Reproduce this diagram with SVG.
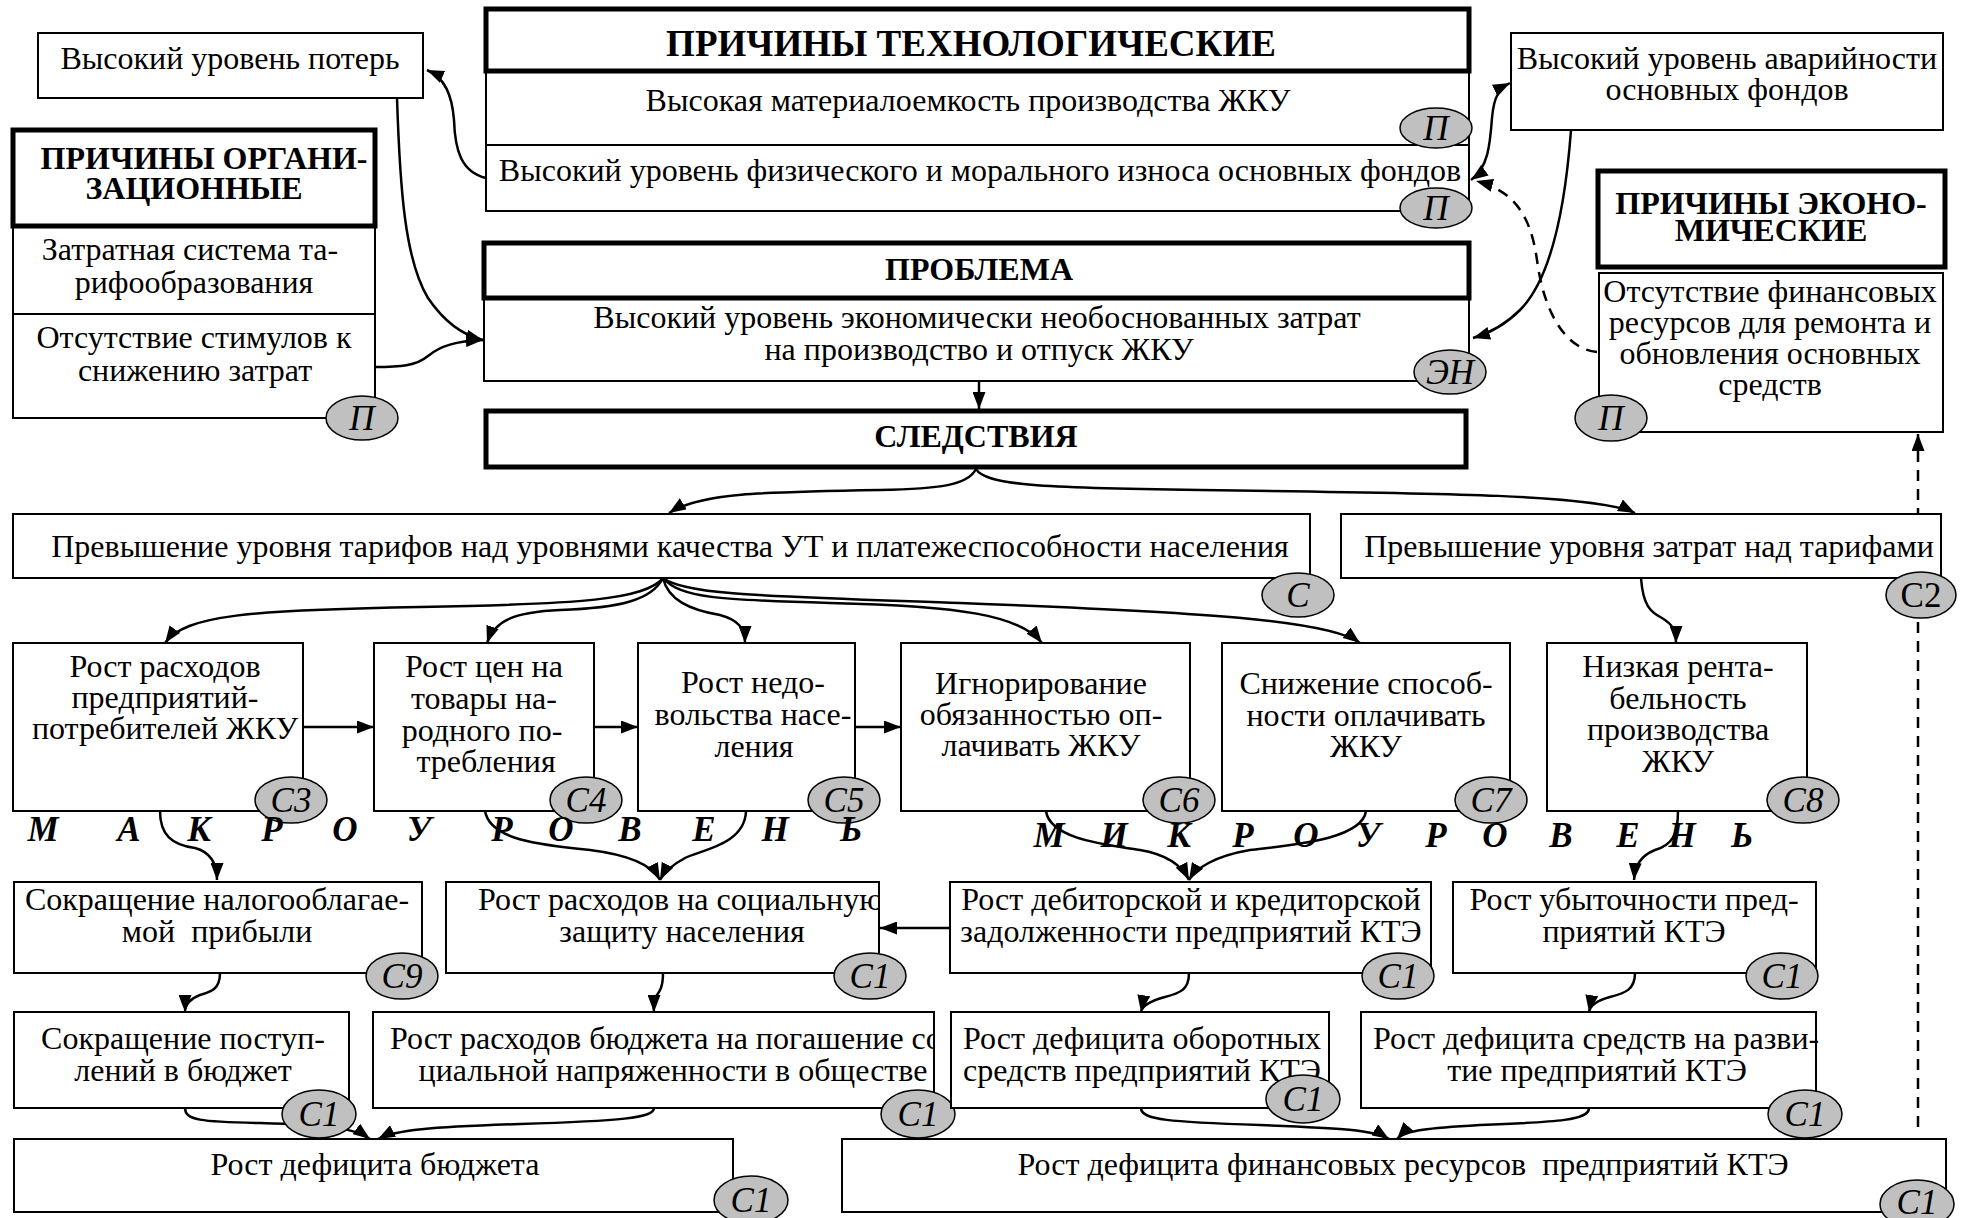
<svg xmlns="http://www.w3.org/2000/svg" width="1971" height="1218" viewBox="0 0 1971 1218">
  <style>
    text { font-family: "Liberation Serif", "Times New Roman", serif; font-size: 32px; fill: #000; }
    .c { text-anchor: middle; }
    .h { font-weight: bold; }
    .ht { font-weight: bold; font-size: 37px; }
    .it { font-style: italic; font-size: 35px; text-anchor: middle; }
    .up { font-size: 35px; text-anchor: middle; }
    .lv { font-weight: bold; font-style: italic; font-size: 35px; text-anchor: middle; }
    .bx { fill: #fff; stroke: #000; stroke-width: 2; }
    .hd { fill: #fff; stroke: #000; stroke-width: 5; }
    .el { fill: #c0c0c0; stroke: #000; stroke-width: 1.5; }
    .dv { stroke: #000; stroke-width: 2; }
    .cn { fill: none; stroke: #000; stroke-width: 2.5; marker-end: url(#ah); }
    .ds { stroke-dasharray: 11 8; }
  </style>
  <defs>
    <marker id="ah" viewBox="0 0 17 13" refX="17" refY="6.5" markerWidth="17" markerHeight="13" markerUnits="userSpaceOnUse" orient="auto-start-reverse">
      <path d="M0,0 L17,6.5 L0,13 z" fill="#000"/>
    </marker>
    <clipPath id="clipSocial"><rect x="446" y="882" width="433" height="91"/></clipPath>
    <clipPath id="clipBudgetExp"><rect x="373" y="1012" width="561" height="96"/></clipPath>
  </defs>
  <rect width="1971" height="1218" fill="#fff"/>

  <!-- connectors -->
  <g id="connectors">
    <path class="cn" d="M397,98 C400,190 405,260 428,298 C447,326 466,336 483,340"/>
    <path class="cn" d="M375,367 C400,367 416,366 428,356 C440,346 456,341 483,340"/>
    <path class="cn" d="M486,178 C461,172 455,150 454,120 C452,95 445,78 427,70"/>
    <path class="cn" style="marker-start:url(#ah)" d="M1471,180 C1488,168 1490,145 1492,118 C1494,95 1500,88 1510,83"/>
    <path class="cn ds" d="M1597,352 C1570,350 1545,320 1537,260 C1530,210 1510,190 1476,181"/>
    <path class="cn" d="M1571,130 C1565,210 1550,280 1520,310 C1505,325 1490,333 1473,338"/>
    <path class="cn" d="M979,381 L979,409"/>
    <path class="cn" d="M976,469 C968,485 940,489 880,490 C760,492 700,493 669,513"/>
    <path class="cn" d="M976,469 C985,485 1040,488 1200,490 C1450,493 1600,495 1635,513"/>
    <path class="cn" d="M663,578 C645,600 580,604 420,607 C250,610 185,615 165,643"/>
    <path class="cn" d="M663,578 C652,600 620,608 560,610 C515,612 495,620 487,643"/>
    <path class="cn" d="M663,578 C668,600 690,610 720,615 C738,620 745,628 745,643"/>
    <path class="cn" d="M663,578 C680,598 720,600 830,603 C960,606 1020,615 1042,643"/>
    <path class="cn" d="M663,578 C685,595 760,596 960,603 C1200,612 1330,620 1360,643"/>
    <path class="cn" d="M1641,578 C1643,605 1650,612 1662,618 C1672,624 1676,630 1676,643"/>
    <path class="cn" d="M303,727 L374,727"/>
    <path class="cn" d="M594,727 L638,727"/>
    <path class="cn" d="M855,727 L901,727"/>
    <path class="cn" d="M160,811 C160,835 172,845 195,848 C210,852 217,862 217,880"/>
    <path class="cn" d="M485,811 C490,840 540,845 590,850 C630,855 652,865 660,880"/>
    <path class="cn" d="M746,811 C745,845 700,850 685,858 C672,865 664,872 660,880"/>
    <path class="cn" d="M1046,811 C1050,840 1110,845 1140,850 C1170,855 1183,868 1189,880"/>
    <path class="cn" d="M1366,811 C1362,840 1290,845 1250,850 C1215,856 1196,868 1189,880"/>
    <path class="cn" d="M1678,811 C1678,835 1672,845 1655,850 C1640,856 1635,866 1634,880"/>
    <path class="cn" d="M950,928 L880,928"/>
    <path class="cn" d="M220,973 C220,990 210,992 200,995 C190,999 185,1005 185,1012"/>
    <path class="cn" d="M663,973 C663,990 658,993 655,998 C652,1003 654,1008 654,1012"/>
    <path class="cn" d="M1189,973 C1189,990 1180,993 1165,997 C1150,1001 1142,1006 1141,1012"/>
    <path class="cn" d="M1635,973 C1635,990 1625,993 1610,997 C1595,1001 1590,1006 1589,1012"/>
    <path class="cn" d="M185,1108 C185,1120 200,1122 260,1123 C330,1125 355,1128 370,1139"/>
    <path class="cn" d="M654,1108 C654,1118 620,1121 520,1124 C430,1127 395,1130 378,1139"/>
    <path class="cn" d="M1141,1108 C1141,1120 1170,1122 1260,1125 C1340,1128 1375,1130 1389,1139"/>
    <path class="cn" d="M1589,1108 C1589,1120 1560,1122 1480,1125 C1430,1128 1405,1130 1397,1139"/>
    <path class="cn ds" d="M1918,1127 L1918,434"/>
  </g>

  <!-- causes -->
  <g id="poteri">
    <rect class="bx" x="38" y="33" width="385" height="65"/>
    <text class="c" x="230" y="69">Высокий уровень потерь</text>
  </g>

  <g id="org">
    <rect class="bx" x="13" y="226" width="362" height="192"/>
    <line class="dv" x1="13" y1="314" x2="375" y2="314"/>
    <rect class="hd" x="13" y="130" width="362" height="96"/>
    <text class="h c" x="204" y="169">ПРИЧИНЫ ОРГАНИ-</text>
    <text class="h c" x="194" y="199">ЗАЦИОННЫЕ</text>
    <text class="c" x="190" y="260">Затратная система та-</text>
    <text class="c" x="194" y="293">рифообразования</text>
    <text class="c" x="194" y="348">Отсутствие стимулов к</text>
    <text class="c" x="195" y="381">снижению затрат</text>
    <ellipse class="el" cx="362" cy="418" rx="36" ry="22"/>
    <text class="it" x="362" y="430">П</text>
  </g>

  <g id="tech">
    <rect class="bx" x="486" y="71" width="983" height="140"/>
    <line class="dv" x1="486" y1="145" x2="1469" y2="145"/>
    <rect class="hd" x="486" y="9" width="983" height="62"/>
    <text class="ht c" x="971" y="56">ПРИЧИНЫ ТЕХНОЛОГИЧЕСКИЕ</text>
    <text class="c" x="968" y="111">Высокая материалоемкость производства ЖКУ</text>
    <text class="c" x="980" y="181">Высокий уровень физического и морального износа основных фондов</text>
    <ellipse class="el" cx="1436" cy="128" rx="36" ry="20"/>
    <text class="it" x="1436" y="140">П</text>
    <ellipse class="el" cx="1436" cy="208" rx="36" ry="20"/>
    <text class="it" x="1436" y="220">П</text>
  </g>

  <g id="avar">
    <rect class="bx" x="1511" y="33" width="432" height="97"/>
    <text class="c" x="1727" y="69">Высокий уровень аварийности</text>
    <text class="c" x="1727" y="100">основных фондов</text>
  </g>

  <g id="econ">
    <rect class="bx" x="1599" y="273" width="344" height="159"/>
    <rect class="hd" x="1598" y="171" width="347" height="96"/>
    <text class="h c" x="1771" y="214">ПРИЧИНЫ ЭКОНО-</text>
    <text class="h c" x="1771" y="241">МИЧЕСКИЕ</text>
    <text class="c" x="1770" y="302">Отсутствие финансовых</text>
    <text class="c" x="1770" y="333">ресурсов для ремонта и</text>
    <text class="c" x="1770" y="364">обновления основных</text>
    <text class="c" x="1770" y="395">средств</text>
    <ellipse class="el" cx="1611" cy="418" rx="36" ry="23"/>
    <text class="it" x="1611" y="430">П</text>
  </g>

  <!-- problem and consequences -->
  <g id="problem">
    <rect class="bx" x="484" y="298" width="985" height="83"/>
    <rect class="hd" x="484" y="243" width="985" height="55"/>
    <text class="h c" x="979" y="280">ПРОБЛЕМА</text>
    <text class="c" x="977" y="328">Высокий уровень экономически необоснованных затрат</text>
    <text class="c" x="979" y="360">на производство и отпуск ЖКУ</text>
    <ellipse class="el" cx="1450" cy="372" rx="36" ry="22"/>
    <text class="it" x="1450" y="384">ЭН</text>
  </g>

  <g id="sled">
    <rect class="hd" x="486" y="411" width="980" height="56"/>
    <text class="h c" x="976" y="447">СЛЕДСТВИЯ</text>
  </g>

  <g id="tariff">
    <rect class="bx" x="13" y="514" width="1297" height="64"/>
    <text class="c" x="670" y="557">Превышение уровня тарифов над уровнями качества УТ и платежеспособности населения</text>
    <ellipse class="el" cx="1298" cy="595" rx="36" ry="22"/>
    <text class="it" x="1298" y="607">С</text>
  </g>

  <g id="costs">
    <rect class="bx" x="1341" y="514" width="600" height="64"/>
    <text class="c" x="1649" y="557">Превышение уровня затрат над тарифами</text>
    <ellipse class="el" cx="1921" cy="595" rx="35" ry="23"/>
    <text class="up" x="1921" y="607">С2</text>
  </g>

  <g id="c3">
    <rect class="bx" x="13" y="643" width="290" height="168"/>
    <text class="c" x="165" y="677">Рост расходов</text>
    <text class="c" x="165" y="708">предприятий-</text>
    <text class="c" x="165" y="739">потребителей ЖКУ</text>
    <ellipse class="el" cx="291" cy="800" rx="36" ry="23"/>
    <text class="it" x="291" y="812">С3</text>
  </g>

  <g id="c4">
    <rect class="bx" x="374" y="643" width="220" height="168"/>
    <text class="c" x="484" y="677">Рост цен на</text>
    <text class="c" x="484" y="709">товары на-</text>
    <text class="c" x="482" y="741">родного по-</text>
    <text class="c" x="486" y="772">требления</text>
    <ellipse class="el" cx="586" cy="800" rx="36" ry="23"/>
    <text class="it" x="586" y="812">С4</text>
  </g>

  <g id="c5">
    <rect class="bx" x="638" y="643" width="217" height="168"/>
    <text class="c" x="753" y="693">Рост недо-</text>
    <text class="c" x="753" y="725">вольства насе-</text>
    <text class="c" x="754" y="757">ления</text>
    <ellipse class="el" cx="844" cy="800" rx="36" ry="23"/>
    <text class="it" x="844" y="812">С5</text>
  </g>

  <g id="c6">
    <rect class="bx" x="901" y="643" width="289" height="168"/>
    <text class="c" x="1041" y="694">Игнорирование</text>
    <text class="c" x="1041" y="725">обязанностью оп-</text>
    <text class="c" x="1041" y="756">лачивать ЖКУ</text>
    <ellipse class="el" cx="1179" cy="800" rx="36" ry="23"/>
    <text class="it" x="1179" y="812">С6</text>
  </g>

  <g id="c7">
    <rect class="bx" x="1222" y="643" width="288" height="168"/>
    <text class="c" x="1366" y="694">Снижение способ-</text>
    <text class="c" x="1366" y="726">ности оплачивать</text>
    <text class="c" x="1366" y="757">ЖКУ</text>
    <ellipse class="el" cx="1491" cy="800" rx="36" ry="23"/>
    <text class="it" x="1491" y="812">С7</text>
  </g>

  <g id="c8">
    <rect class="bx" x="1547" y="643" width="260" height="168"/>
    <text class="c" x="1678" y="677">Низкая рента-</text>
    <text class="c" x="1678" y="709">бельность</text>
    <text class="c" x="1678" y="740">производства</text>
    <text class="c" x="1678" y="772">ЖКУ</text>
    <ellipse class="el" cx="1803" cy="800" rx="36" ry="23"/>
    <text class="it" x="1803" y="812">С8</text>
  </g>

  <g id="c9">
    <rect class="bx" x="14" y="882" width="408" height="91"/>
    <text class="c" x="217" y="910">Сокращение налогооблагае-</text>
    <text class="c" x="217" y="942" xml:space="preserve">мой  прибыли</text>
    <ellipse class="el" cx="402" cy="976" rx="36" ry="23"/>
    <text class="it" x="402" y="988">С9</text>
  </g>

  <g id="social">
    <rect class="bx" x="446" y="882" width="433" height="91"/>
    <g clip-path="url(#clipSocial)">
      <text x="478" y="910">Рост расходов на социальную</text>
    </g>
    <text class="c" x="682" y="942">защиту населения</text>
    <ellipse class="el" cx="870" cy="976" rx="36" ry="23"/>
    <text class="it" x="870" y="988">С1</text>
  </g>

  <g id="debtor">
    <rect class="bx" x="950" y="882" width="481" height="91"/>
    <text class="c" x="1191" y="910">Рост дебиторской и кредиторской</text>
    <text class="c" x="1191" y="942">задолженности предприятий КТЭ</text>
    <ellipse class="el" cx="1398" cy="976" rx="36" ry="23"/>
    <text class="it" x="1398" y="988">С1</text>
  </g>

  <g id="loss">
    <rect class="bx" x="1453" y="882" width="363" height="91"/>
    <text class="c" x="1634" y="910">Рост убыточности пред-</text>
    <text class="c" x="1634" y="942">приятий КТЭ</text>
    <ellipse class="el" cx="1782" cy="976" rx="36" ry="23"/>
    <text class="it" x="1782" y="988">С1</text>
  </g>

  <g id="revenue">
    <rect class="bx" x="14" y="1012" width="335" height="96"/>
    <text class="c" x="183" y="1049">Сокращение поступ-</text>
    <text class="c" x="183" y="1081">лений в бюджет</text>
    <ellipse class="el" cx="319" cy="1114" rx="37" ry="24"/>
    <text class="it" x="319" y="1126">С1</text>
  </g>

  <g id="budget-spend">
    <rect class="bx" x="373" y="1012" width="561" height="96"/>
    <g clip-path="url(#clipBudgetExp)">
      <text x="390" y="1049">Рост расходов бюджета на погашение со-</text>
    </g>
    <text class="c" x="673" y="1081">циальной напряженности в обществе</text>
    <ellipse class="el" cx="918" cy="1114" rx="37" ry="24"/>
    <text class="it" x="918" y="1126">С1</text>
  </g>

  <g id="working-capital">
    <rect class="bx" x="951" y="1012" width="378" height="96"/>
    <text x="963" y="1049">Рост дефицита оборотных</text>
    <text x="963" y="1081">средств предприятий КТЭ</text>
    <ellipse class="el" cx="1303" cy="1099" rx="37" ry="24"/>
    <text class="it" x="1303" y="1111">С1</text>
  </g>

  <g id="development">
    <rect class="bx" x="1361" y="1012" width="455" height="96"/>
    <text x="1373" y="1049">Рост дефицита средств на разви-</text>
    <text class="c" x="1597" y="1081">тие предприятий КТЭ</text>
    <ellipse class="el" cx="1805" cy="1114" rx="37" ry="24"/>
    <text class="it" x="1805" y="1126">С1</text>
  </g>

  <g id="budget-deficit">
    <rect class="bx" x="14" y="1139" width="719" height="73"/>
    <text class="c" x="375" y="1175">Рост дефицита бюджета</text>
    <ellipse class="el" cx="751" cy="1200" rx="37" ry="24"/>
    <text class="it" x="751" y="1212">С1</text>
  </g>

  <g id="finance-deficit">
    <rect class="bx" x="842" y="1139" width="1104" height="73"/>
    <text class="c" x="1403" y="1175" xml:space="preserve">Рост дефицита финансовых ресурсов  предприятий КТЭ</text>
    <ellipse class="el" cx="1917" cy="1204" rx="37" ry="24"/>
    <text class="it" x="1917" y="1214">С1</text>
  </g>

  <!-- level captions -->
  <g id="macro-level">
    <text class="lv" x="43" y="841">М</text>
    <text class="lv" x="129" y="841">А</text>
    <text class="lv" x="199" y="841">К</text>
    <text class="lv" x="272" y="841">Р</text>
    <text class="lv" x="345" y="841">О</text>
    <text class="lv" x="419" y="841">У</text>
    <text class="lv" x="502" y="841">Р</text>
    <text class="lv" x="561" y="841">О</text>
    <text class="lv" x="630" y="841">В</text>
    <text class="lv" x="704" y="841">Е</text>
    <text class="lv" x="775" y="841">Н</text>
    <text class="lv" x="851" y="841">Ь</text>
  </g>
  <g id="micro-level">
    <text class="lv" x="1049" y="847">М</text>
    <text class="lv" x="1114" y="847">И</text>
    <text class="lv" x="1179" y="847">К</text>
    <text class="lv" x="1243" y="847">Р</text>
    <text class="lv" x="1306" y="847">О</text>
    <text class="lv" x="1368" y="847">У</text>
    <text class="lv" x="1436" y="847">Р</text>
    <text class="lv" x="1495" y="847">О</text>
    <text class="lv" x="1561" y="847">В</text>
    <text class="lv" x="1628" y="847">Е</text>
    <text class="lv" x="1682" y="847">Н</text>
    <text class="lv" x="1742" y="847">Ь</text>
  </g>
</svg>
